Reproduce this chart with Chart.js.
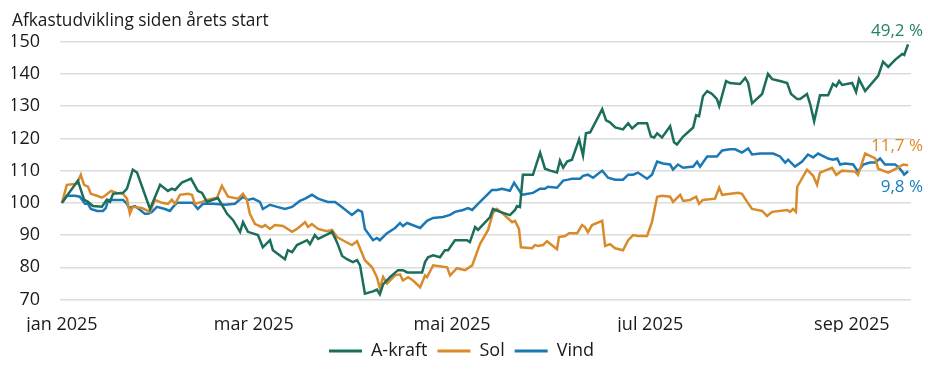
<!DOCTYPE html>
<html>
<head>
<meta charset="utf-8">
<script src="https://cdn.jsdelivr.net/npm/chart.js@4"></script>
<style>
  html, body { margin: 0; padding: 0; background: #ffffff; }
  #wrap { width: 928px; height: 371px; position: relative; }
</style>
</head>
<body>
<div id="wrap"><canvas id="c"></canvas></div>
<script>
// Days since 1 January 2025 and index values (start = 100)
const akraftDays = [0,4.9,6.8,8,9.5,12.3,13.8,14.8,15.7,18.8,20,21.8,23.1,27.1,30.2,32.6,33.8,34.8,36.9,39.7,41.8,43.1,44.6,48,50.8,52.6,54.8,55.7,57.2,60.3,61.8,64,64.9,68.6,69.5,70.8,72.3,75.4,76.3,77.8,78.8,81.8,83.1,84.6,86.2,87.7,89.5,90.8,91.7,93.2,95.7,96.9,97.8,98.8,100.9,103.4,104.9,106.2,110.8,111.7,112.6,114.2,116.3,117.8,118.8,120.9,124.6,125.5,127.1,128,131.7,132.6,134.8,137.8,139.4,140,140.9,141.8,144.9,147.1,148.6,150.2,152.3,153.2,154.2,155.4,156.9,159.1,160.3,161.2,162.5,166.2,167.4,168.6,170.2,172.6,174.2,175.4,177.2,180,181.2,182.2,183.1,184.6,187.1,188.3,189.2,191.1,194.2,195.1,196,197.2,198.5,200,201.5,202.2,204.3,205.5,208.6,210.2,211.1,212.3,215.4,217.2,218.5,220.9,223.1,224.3,226.2,227.1,229.2,230.2,231.4,233.2,235.7,237.2,238.2,239.1,240,243.1,244.3,245.2,247.1,251.1,252.6,254.2,256.3,258.5,259.1,260.3];
const akraftValues = [100,106.9,101,100.3,99,98.8,101,100.3,102.8,103.1,104.4,110.3,109.4,98.1,105.6,103.7,104.4,104,106.3,107.5,103.7,103.1,100.3,101.5,96.6,94.7,91,94,91,90,86.2,88.4,85.3,82.5,85.3,84.7,86.9,88.4,87.2,90,88.8,90.3,91,87.8,83.5,82.5,81.6,82.2,80.6,71.8,72.5,73.1,71.6,74.7,76.9,79.1,79.1,78.4,78.4,81.6,83.1,83.7,83.1,85.3,85.3,88.4,88.4,87.8,92.5,91.6,95.6,98.1,97.2,96.2,97.8,99,98.7,108.7,108.7,115.6,110.6,110,109.4,113.1,110.9,112.8,113.4,119.7,114.7,121.6,121.9,129.1,125.6,125,123.4,122.8,124.7,123.1,124.7,124.7,120.6,120.3,121.6,120.3,123.8,118.8,118.1,120.6,123.4,127.2,126.9,133.1,134.7,133.8,132.2,130,137.8,137.2,136.9,138.8,137.2,130.9,133.8,140,138.4,137.8,137.2,133.8,132.2,132.2,133.8,130.6,125.3,133.4,133.4,136.9,136.2,137.8,136.6,137.2,134.4,138.4,134.7,139.4,143.8,142.2,144.4,146.2,145.9,149.2];

const solDays = [0,1.5,4.6,5.8,6.8,8,8.9,10.8,12.3,13.2,15.1,16.9,18.8,20,20.9,21.8,24.6,27.1,28.6,30.8,32.6,33.8,34.8,36.3,38.8,40,40.9,43.1,44.6,47.7,49.2,51.1,54.2,55.7,56.9,57.8,59.4,61.5,62.5,64,65.5,68,70.8,72.3,74.8,75.7,76.9,78.8,81.5,83.1,84.6,87.1,89.2,90.8,93.2,95.4,96.9,97.8,98.8,100,102.5,104,104.9,106.5,108,110.2,111.7,112.3,114.2,118.5,119.4,121.5,124,126.2,128.6,131.1,132.6,133.8,135.7,138.5,139.4,140.6,141.2,144.6,145.5,146.5,148,149.2,152.3,152.9,154.8,156,158.5,160,160.9,161.8,163.1,166.2,167.1,168.6,170.2,172.6,174.2,175.7,177.2,180,181.5,183.1,184.6,187.1,188,190.2,191.1,193.2,195.1,196,197.2,200.9,202.2,203.1,208,209.2,210.8,212.3,215.4,216.9,218.5,223.1,224,224.9,225.8,226.2,229.2,231.1,232.3,233.2,236.9,238.2,240,244,244.9,247.1,250.2,251.1,254.2,257.2,258.8,260.3];
const solValues = [100,105.6,105.9,108.7,105.6,105,102.8,102.2,101.6,102.2,103.7,103.1,102.8,101.3,96.6,98.75,98.4,97.2,100.9,100,99.7,101,99.7,102.5,102.8,102.5,99.7,100.3,100.9,101.6,105.3,101.9,101.3,102.8,100.9,96.6,93.4,92.5,93.1,91.9,93.1,92.8,91,91.9,94,92.5,93.4,91.9,91.2,91.6,89.4,88,86.9,88.1,82.2,80,76.9,73.5,77,75,77.5,77.8,75.9,76.9,75.9,73.8,77.5,76.9,80.6,80,77.5,79.7,79.1,80.6,87.2,91.6,96.9,98.1,96.6,94,94.4,91.9,86.2,85.9,86.9,86.6,86.9,88.1,85.6,89.4,89.7,90.6,90.6,93.1,92.5,90.9,93.1,94.4,86.6,87.2,85.9,85.3,88.4,90,89.7,89.7,94,101.9,102.2,101.9,100.3,102.5,100.6,100.9,101.9,99.7,100.9,101.3,104.7,102.5,103.1,102.8,100.3,98.1,97.5,95.9,97.2,97.8,97.2,98.1,97.2,105,110.3,108.4,105.6,109.4,110.9,108.7,110,109.7,108.7,115.3,113.8,110.6,109.4,110.9,111.9,111.7];

const vindDays = [0,1.5,4,5.5,7.1,8,8.9,10.8,12.6,13.5,14.2,18.8,20,20.6,22.5,25.5,26.5,27.7,29.2,31.7,33.2,34.2,35.4,40.3,41.8,43.4,46.5,50.2,53.2,55.7,57.2,58.8,60.9,61.8,64,66.2,68.6,70.8,73.2,74.8,76.9,78.8,81.8,84,85.5,89.2,91.1,92.3,93.2,95.7,96.9,97.8,100,102.5,104,104.9,106.2,110.2,112.3,114.2,117.2,119.4,120.9,123.4,124.9,126.2,128,130.8,132.3,133.8,135.4,137.8,139.1,140.3,141.5,144.9,147.1,148.6,149.5,152.3,154.2,155.7,156.9,159.4,160.3,161.8,163.4,166.2,168,170.2,172.6,174.2,175.7,177.2,180,181.5,183.1,184.9,187.1,188,189.5,191.1,194.2,195.4,196.3,198.5,201.5,203.1,205.5,207.1,209.2,211.1,212.3,214.8,218.8,220.9,222.5,223.4,225.5,227.7,229.5,231.1,232.6,235.7,237.2,238.5,239.4,240.9,243.4,244.9,246.5,248.6,250.2,251.7,253.2,256.3,257.2,258.5,259.1,260.3];
const vindValues = [100,102.2,102.2,101.9,99.7,99.7,98.1,97.5,97.5,98.4,100.9,100.9,99.7,98.4,99,96.6,96.6,97.2,98.75,98.1,97.5,98.75,100,100,98.1,99.7,99.7,99.4,99.7,101.9,100.9,101.3,100.3,98.1,99.4,98.75,98.1,98.75,100.6,101.3,102.5,101.3,100.3,100.3,99.2,96.25,97.8,97.2,91.9,88.4,89.1,88.4,90.6,92.2,93.75,92.8,93.75,92.2,94.4,95.3,95.6,96.25,97.2,97.8,98.4,97.8,99.7,102.5,104,104,104.4,103.75,106.25,104.4,102.5,103.1,104.4,104.4,105,104.7,106.9,107.2,107.5,107.5,108.4,108.75,107.8,110,107.8,107.2,107.2,108.75,108.75,109.4,107.5,108.75,112.8,112.2,111.9,110.3,111.9,110.9,111.25,112.8,111.25,114.4,114.4,116.25,116.6,116.6,115.6,116.9,115,115.3,115.3,114.4,112.5,113.4,111.25,112.8,115,114.1,115.3,113.75,113.4,113.75,111.9,112.2,111.9,109.7,111.9,112.5,112.5,113.75,111.9,111.9,111.25,109.7,108.75,109.8];

const seriesNames = ['A-kraft', 'Sol', 'Vind'];
const endLabels = ['49,2 %', '11,7 %', '9,8 %'];
const tickDays = [0, 59, 120, 181, 243];
const tickLabels = ['jan 2025', 'mar 2025', 'maj 2025', 'jul 2025', 'sep 2025'];
const yTicks = [70, 80, 90, 100, 110, 120, 130, 140, 150];
const chartTitle = 'Afkastudvikling siden årets start';

const colors = ['#1b6e5c', '#d98a2b', '#1a78b4'];
const labelColors = ['#23806c', '#d98a2b', '#1a80bb'];
const labelDy = [-13, -19, 16];
const FONT = "'Open Sans', 'Noto Sans', sans-serif";

function pts(days, vals) { return days.map((d, i) => ({ x: d, y: vals[i] })); }
const allDays = [akraftDays, solDays, vindDays];
const allVals = [akraftValues, solValues, vindValues];

const endLabelPlugin = {
  id: 'endLabels',
  afterDatasetsDraw(chart) {
    const ctx = chart.ctx;
    ctx.save();
    ctx.font = "17px " + FONT;
    ctx.textAlign = 'right';
    ctx.textBaseline = 'middle';
    chart.data.datasets.forEach((ds, i) => {
      const meta = chart.getDatasetMeta(i);
      const last = meta.data[meta.data.length - 1];
      ctx.fillStyle = labelColors[i];
      ctx.fillText(endLabels[i], chart.chartArea.right + 12, last.y + labelDy[i]);
    });
    ctx.restore();
  }
};

new Chart(document.getElementById('c'), {
  type: 'line',
  data: {
    datasets: seriesNames.map((n, i) => ({
      label: n,
      data: pts(allDays[i], allVals[i]),
      borderColor: colors[i],
      backgroundColor: colors[i],
      borderWidth: 2.5,
      pointRadius: 0,
      tension: 0,
      fill: false
    }))
  },
  options: {
    responsive: true,
    maintainAspectRatio: false,
    animation: false,
    layout: { padding: { left: 12, right: 17, top: 0, bottom: 1 } },
    plugins: {
      title: {
        display: true, text: chartTitle, align: 'start', color: '#1a1a1a',
        font: { family: FONT, size: 17.3, weight: 'normal' },
        padding: { top: 11, bottom: 10 }
      },
      legend: {
        position: 'bottom',
        labels: {
          boxWidth: 33, boxHeight: 3, padding: 10, color: '#1a1a1a',
          font: { family: FONT, size: 18 },
          generateLabels(chart) {
            return chart.data.datasets.map((ds, i) => ({
              text: ds.label, fillStyle: colors[i], strokeStyle: colors[i],
              lineWidth: 0, datasetIndex: i, hidden: false, fontColor: '#1a1a1a'
            }));
          }
        }
      },
      tooltip: { enabled: false }
    },
    scales: {
      x: {
        type: 'linear', min: -0.6, max: 261.2,
        grid: { display: false, drawTicks: false },
        border: { display: false },
        afterBuildTicks(scale) { scale.ticks = tickDays.map(v => ({ value: v })); },
        afterFit(scale) { scale.height = 32.5; scale.paddingLeft = 0; scale.paddingRight = 0; },
        ticks: {
          autoSkip: false, maxRotation: 0, padding: 15, color: '#1a1a1a',
          font: { family: FONT, size: 18 },
          callback(v) { const k = tickDays.indexOf(v); return k >= 0 ? tickLabels[k] : ''; }
        }
      },
      y: {
        min: 70, max: 150,
        afterBuildTicks(scale) { scale.ticks = yTicks.map(v => ({ value: v })); },
        afterFit(scale) { scale.width = 48; },
        grid: { color: '#dcdcdc', lineWidth: 1.5, drawTicks: false },
        border: { display: false },
        ticks: {
          padding: 20, color: '#1a1a1a',
          font: { family: FONT, size: 18 }
        }
      }
    }
  },
  plugins: [endLabelPlugin]
});
</script>
</body>
</html>
